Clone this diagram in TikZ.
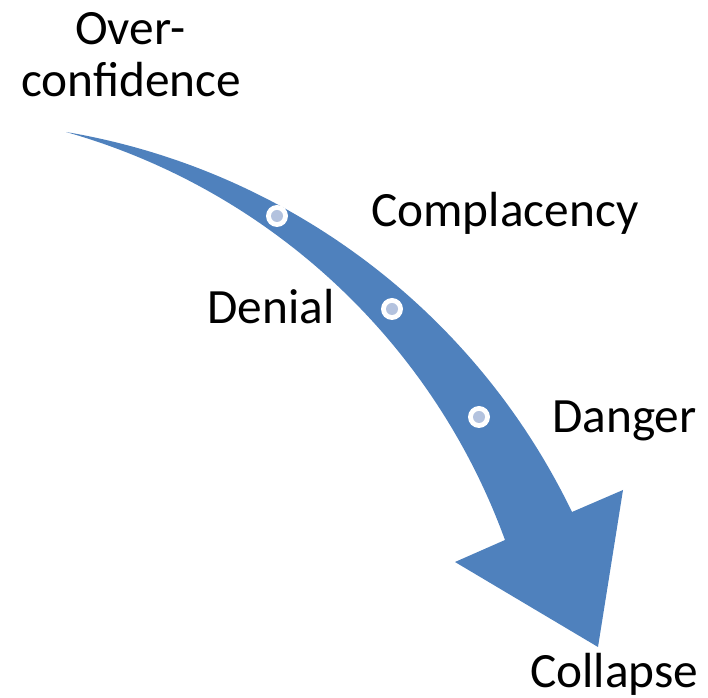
\documentclass[tikz,border=0pt]{standalone}
\usepackage{fontspec}
\setmainfont{Carlito}
\begin{document}
\begin{tikzpicture}[x=0.75pt,y=-0.75pt,
  lbl/.style={inner sep=0pt,anchor=base west,font=\fontsize{37}{41}\selectfont},
  band/.style={fill=arrowblue,draw=none},
  dotouter/.style={circle,fill=white,draw=none,minimum size=16.5pt,inner sep=0pt},
  dotinner/.style={circle,fill=dotblue,draw=none,minimum size=9pt,inner sep=0pt}]
\definecolor{arrowblue}{HTML}{4F81BD}
\definecolor{dotblue}{HTML}{B3C2DE}
\useasboundingbox (0,0) rectangle (708,698);
% curved arrow
\coordinate (tail) at (66,132);
\coordinate (shR) at (572,512);
\coordinate (barbR) at (623,490);
\coordinate (tip) at (598,647);
\coordinate (barbL) at (455,562);
\coordinate (shL) at (505,540);
\fill[band] (tail) .. controls (286.3,169.2) and (474.9,310.8) .. (shR)
  -- (barbR) -- (tip) -- (barbL) -- (shL)
  .. controls (432.7,341.4) and (269.4,189.6) .. (tail) -- cycle;
% dots
\node[dotouter] (d1) at (277,216) {};
\node[dotinner] (d1i) at (d1) {};
\node[dotouter] (d2) at (392,309) {};
\node[dotinner] (d2i) at (d2) {};
\node[dotouter] (d3) at (479,417) {};
\node[dotinner] (d3i) at (d3) {};
% labels
\node[lbl] (over) at (75,45) {Over-};
\node[lbl] (conf) at (21,97) {confidence};
\node[lbl] (comp) at (371,227) {Complacency};
\node[lbl] (den) at (207,324) {Denial};
\node[lbl] (dang) at (552,433) {Danger};
\node[lbl] (coll) at (530,688) {Collapse};
\end{tikzpicture}
\end{document}
